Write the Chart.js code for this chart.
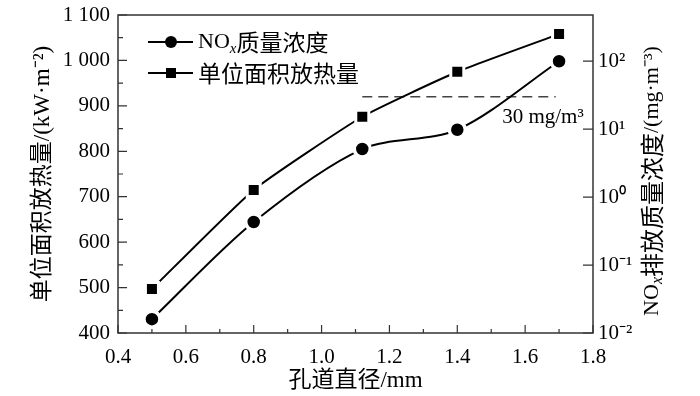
<!DOCTYPE html>
<html>
<head>
<meta charset="utf-8">
<script src="https://cdn.jsdelivr.net/npm/chart.js@4.4.1/dist/chart.umd.min.js"></script>
<style>
  body { margin: 0; background: #fff; }
  #wrap { width: 700px; height: 396px; }
</style>
</head>
<body>
<div id="wrap"><canvas id="chart" width="700" height="396"></canvas></div>
<script>
// hole diameter, mm
const diameters = [0.5, 0.8, 1.12, 1.4, 1.7];
// heat release per unit area, kW/m2 (left axis)
const heat_values = [497, 715, 876, 975, 1058];
// NOx mass concentration, mg/m3 (right axis, log)
const nox_values = [0.016, 0.43, 5.1, 9.8, 100];
// 30 mg/m3 limit line
const limit_x = [1.12, 1.69];
const limit_value = 30;

const x_ticks = [0.4, 0.6, 0.8, 1.0, 1.2, 1.4, 1.6, 1.8];
const log_ticks = [0.01, 0.1, 1, 10, 100];
const log_tick_labels = ['10\u207B\u00B2', '10\u207B\u00B9', '10\u2070', '10\u00B9', '10\u00B2'];

const serif = "'Liberation Serif', 'Noto Sans CJK SC', serif";
const cjk = "'Noto Sans CJK SC', 'Liberation Serif', serif";
const axis_color = '#333';

function to_points(xs, ys) {
    return xs.map((x, i) => ({x: x, y: ys[i]}));
}

// fixed box sizes so the plot area sits where it does in the figure
function fix_box(size_key, size) {
    return scale => {
        scale[size_key] = size;
        scale.paddingTop = 0;
        scale.paddingBottom = 0;
        scale.paddingLeft = 0;
        scale.paddingRight = 0;
    };
}

// inward ticks, minor ticks, frame, legend, right title and limit label
const decorations = {
    id: 'decorations',
    afterDraw(chart) {
        const ctx = chart.ctx;
        const area = chart.chartArea;
        const xs = chart.scales.x, ys = chart.scales.y, ys2 = chart.scales.y2;
        ctx.save();
        ctx.strokeStyle = axis_color;
        ctx.lineWidth = 1.5;
        ctx.strokeRect(area.left, area.top, area.right - area.left, area.bottom - area.top);

        ctx.lineWidth = 1.2;
        ctx.beginPath();
        for (let v = 0.4; v <= 1.8001; v += 0.1) {
            const px = xs.getPixelForValue(v);
            const major = Math.round(v * 10) % 2 === 0;
            ctx.moveTo(px, area.bottom);
            ctx.lineTo(px, area.bottom - (major ? 8 : 4));
        }
        for (let v = 400; v <= 1100; v += 50) {
            const py = ys.getPixelForValue(v);
            ctx.moveTo(area.left, py);
            ctx.lineTo(area.left + (v % 100 === 0 ? 9 : 5), py);
        }
        log_ticks.forEach(v => {
            const py = ys2.getPixelForValue(v);
            ctx.moveTo(area.right, py);
            ctx.lineTo(area.right - 10, py);
        });
        ctx.stroke();

        // legend
        const rows = [
            {style: 'circle', parts: [['NO', '22px ' + serif, 0], ['x', "italic 15px 'Liberation Serif'", 7], ['质量浓度', '23px ' + cjk, 0]]},
            {style: 'rect', parts: [['单位面积放热量', '23px ' + cjk, 0]]}
        ];
        rows.forEach((row, i) => {
            const y = area.top + 27 + i * 31;
            ctx.strokeStyle = '#000';
            ctx.lineWidth = 2;
            ctx.beginPath();
            ctx.moveTo(area.left + 30, y);
            ctx.lineTo(area.left + 75, y);
            ctx.stroke();
            const mx = area.left + 53;
            ctx.fillStyle = '#000';
            if (row.style === 'circle') {
                ctx.beginPath();
                ctx.arc(mx, y, 6, 0, Math.PI * 2);
                ctx.fill();
            } else {
                ctx.fillRect(mx - 5, y - 5, 10, 10);
            }
            let tx = area.left + 80;
            ctx.textBaseline = 'middle';
            ctx.textAlign = 'left';
            row.parts.forEach(p => {
                ctx.font = p[1];
                ctx.fillText(p[0], tx, y + p[2]);
                tx += ctx.measureText(p[0]).width;
            });
        });

        // limit label
        ctx.font = '21px ' + serif;
        ctx.textAlign = 'right';
        ctx.textBaseline = 'middle';
        const lx = xs.getPixelForValue(limit_x[1]) + 28;
        const ly = ys2.getPixelForValue(limit_value) + 21;
        ctx.fillText('30 mg/m\u00B3', lx, ly);

        // right axis title, reading bottom to top
        ctx.translate(652, (area.top + area.bottom) / 2 + 7);
        ctx.rotate(-Math.PI / 2);
        const parts = [['NO', '22px ' + serif, 0], ['x', "italic 16px 'Liberation Serif'", 6], ['排放质量浓度', '24px ' + cjk, 0], ['/(mg\u00B7m\u207B\u00B3)', '22px ' + serif, 0]];
        let total = 0;
        parts.forEach(p => { ctx.font = p[1]; total += ctx.measureText(p[0]).width; });
        let tx = -total / 2;
        ctx.textAlign = 'left';
        parts.forEach(p => {
            ctx.font = p[1];
            ctx.fillText(p[0], tx, p[2]);
            tx += ctx.measureText(p[0]).width;
        });
        ctx.restore();
    }
};

function make_chart() {
    Chart.defaults.color = '#000';
    Chart.defaults.font.family = serif;
    Chart.defaults.font.size = 21;

    const element = document.getElementById('chart');
    const data = {
        datasets: [
            {
                label: 'NOx质量浓度',
                data: to_points(diameters, nox_values),
                yAxisID: 'y2',
                borderColor: '#000',
                borderWidth: 2,
                tension: 0.3,
                pointStyle: 'circle',
                pointRadius: 8,
                pointBackgroundColor: '#000',
                pointBorderColor: '#fff',
                pointBorderWidth: 3.5
            },
            {
                label: '单位面积放热量',
                data: to_points(diameters, heat_values),
                yAxisID: 'y',
                borderColor: '#000',
                borderWidth: 2,
                tension: 0.15,
                pointStyle: 'rect',
                pointRadius: 9.2,
                pointBackgroundColor: '#000',
                pointBorderColor: '#fff',
                pointBorderWidth: 3
            },
            {
                label: 'limit',
                data: limit_x.map(x => ({x: x, y: limit_value})),
                yAxisID: 'y2',
                borderColor: '#444',
                borderWidth: 1.5,
                borderDash: [10, 6],
                pointRadius: 0
            }
        ]
    };

    const options = {
        responsive: false,
        animation: false,
        layout: {padding: {top: 15, left: 0, right: 0, bottom: 0}},
        plugins: {legend: {display: false}, tooltip: {enabled: false}},
        scales: {
            x: {
                type: 'linear',
                min: 0.4,
                max: 1.8,
                afterBuildTicks: scale => { scale.ticks = x_ticks.map(v => ({value: v})); },
                afterFit: fix_box('height', 63),
                ticks: {padding: 12, callback: v => v.toFixed(1)},
                grid: {display: false, drawTicks: false},
                border: {display: false},
                title: {display: true, text: '孔道直径/mm', padding: {top: 0, bottom: 1},
                        font: {family: serif, size: 23}}
            },
            y: {
                position: 'left',
                min: 400,
                max: 1100,
                ticks: {stepSize: 100, padding: 8,
                        callback: v => v >= 1000 ? Math.floor(v / 1000) + ' ' + String(v % 1000).padStart(3, '0') : String(v)},
                afterFit: fix_box('width', 118),
                grid: {display: false, drawTicks: false},
                border: {display: false},
                title: {display: true, text: '单位面积放热量/(kW·m\u207B\u00B2)', padding: {top: 29, bottom: 0},
                        font: {family: serif, size: 23}}
            },
            y2: {
                type: 'logarithmic',
                position: 'right',
                min: 0.01,
                max: 479,
                afterBuildTicks: scale => { scale.ticks = log_ticks.map(v => ({value: v})); },
                ticks: {padding: 5, callback: v => log_tick_labels[log_ticks.indexOf(v)]},
                afterFit: fix_box('width', 107),
                grid: {display: false, drawTicks: false},
                border: {display: false}
            }
        }
    };

    return new Chart(element, {type: 'line', data: data, options: options, plugins: [decorations]});
}

make_chart();
</script>
</body>
</html>
